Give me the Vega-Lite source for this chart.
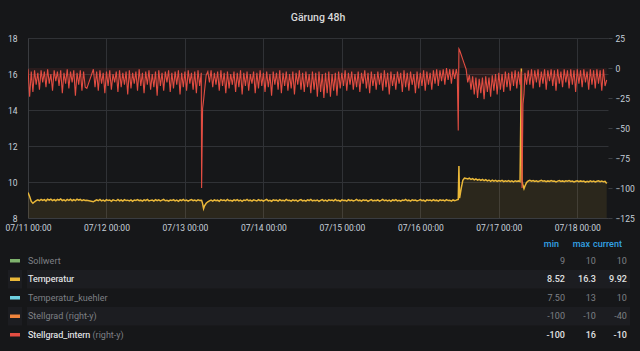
{
  "$schema": "https://vega.github.io/schema/vega-lite/v6.json",
  "background": "#161719",
  "padding": {"left": 3, "top": 12, "right": 9, "bottom": 7},
  "config": {
    "font": "Roboto",
    "view": {"stroke": null},
    "axis": {"labelFont": "Roboto", "labelFontSize": 8.5, "labelColor": "#c7d0d9", "gridColor": "#303236", "domainColor": "#3a3c40", "tickColor": "#3a3c40", "title": null, "labelOverlap": false},
    "title": {"font": "Roboto", "fontSize": 10.5, "fontWeight": 500, "color": "#d8d9da"},
    "text": {"font": "Roboto", "fontSize": 9}
  },
  "datasets": {
    "ts": [
      {"h":0,"temp":9.42,"stell":-1},{"h":0.5,"temp":9.20,"stell":-24},{"h":1,"temp":8.92,"stell":-3},{"h":1.5,"temp":8.82,"stell":-20},
      {"h":2,"temp":8.90,"stell":-2},{"h":2.5,"temp":8.97,"stell":-14},{"h":3,"temp":9.01,"stell":-4},{"h":3.5,"temp":8.96,"stell":-18},
      {"h":4,"temp":9.03,"stell":-2},{"h":4.5,"temp":8.98,"stell":-12},{"h":5,"temp":9.02,"stell":-3},{"h":5.5,"temp":8.95,"stell":-16},
      {"h":6,"temp":9.04,"stell":-1},{"h":6.5,"temp":8.99,"stell":-13},{"h":7,"temp":9.05,"stell":-5},{"h":7.5,"temp":8.97,"stell":-19},
      {"h":8,"temp":9.02,"stell":-2},{"h":8.5,"temp":8.96,"stell":-11},{"h":9,"temp":9.03,"stell":-3},{"h":9.5,"temp":8.99,"stell":-15},
      {"h":10,"temp":9.06,"stell":-2},{"h":10.5,"temp":8.97,"stell":-21},{"h":11,"temp":9.01,"stell":-4},{"h":11.5,"temp":8.95,"stell":-13},
      {"h":12,"temp":9.03,"stell":-1},{"h":12.5,"temp":8.98,"stell":-17},{"h":13,"temp":9.04,"stell":-3},{"h":13.5,"temp":8.96,"stell":-12},
      {"h":14,"temp":9.02,"stell":-2},{"h":14.5,"temp":8.97,"stell":-23},{"h":15,"temp":9.05,"stell":-4},{"h":15.5,"temp":8.99,"stell":-14},
      {"h":16,"temp":9.03,"stell":-2},{"h":16.5,"temp":8.96,"stell":-19},{"h":17,"temp":9.01,"stell":-3},{"h":17.5,"temp":8.97,"stell":-16},
      {"h":18,"temp":8.98,"stell":-17},
      {"h":20,"temp":8.90,"stell":-1},{"h":20.5,"temp":8.96,"stell":-16},{"h":21,"temp":9.01,"stell":-3},{"h":21.5,"temp":8.96,"stell":-19},
      {"h":22,"temp":9.03,"stell":-2},{"h":22.5,"temp":8.95,"stell":-13},{"h":23,"temp":8.99,"stell":-4},{"h":23.5,"temp":8.94,"stell":-21},
      {"h":24,"temp":9.02,"stell":-3},{"h":24.5,"temp":8.97,"stell":-15},{"h":25,"temp":9.00,"stell":-2},{"h":25.5,"temp":8.93,"stell":-18},
      {"h":26,"temp":9.01,"stell":-5},{"h":26.5,"temp":8.98,"stell":-12},{"h":27,"temp":8.96,"stell":-3},{"h":27.5,"temp":9.03,"stell":-20},
      {"h":28,"temp":8.95,"stell":-2},{"h":28.5,"temp":9.00,"stell":-16},{"h":29,"temp":8.94,"stell":-4},{"h":29.5,"temp":9.02,"stell":-14},
      {"h":30,"temp":8.97,"stell":-3},{"h":30.5,"temp":8.99,"stell":-22},{"h":31,"temp":8.95,"stell":-2},{"h":31.5,"temp":9.01,"stell":-17},
      {"h":32,"temp":8.93,"stell":-4},{"h":32.5,"temp":9.00,"stell":-13},{"h":33,"temp":8.98,"stell":-3},{"h":33.5,"temp":9.02,"stell":-19},
      {"h":34,"temp":8.96,"stell":-1},{"h":34.5,"temp":8.99,"stell":-15},{"h":35,"temp":8.94,"stell":-4},{"h":35.5,"temp":9.01,"stell":-21},
      {"h":36,"temp":8.97,"stell":-3},{"h":36.5,"temp":9.03,"stell":-14},{"h":37,"temp":8.95,"stell":-2},{"h":37.5,"temp":8.98,"stell":-18},
      {"h":38,"temp":9.00,"stell":-5},{"h":38.5,"temp":8.94,"stell":-16},{"h":39,"temp":9.02,"stell":-3},{"h":39.5,"temp":8.96,"stell":-23},
      {"h":40,"temp":9.01,"stell":-2},{"h":40.5,"temp":8.95,"stell":-15},{"h":41,"temp":8.99,"stell":-4},{"h":41.5,"temp":9.03,"stell":-19},
      {"h":42,"temp":8.96,"stell":-3},{"h":42.5,"temp":8.98,"stell":-12},{"h":43,"temp":8.94,"stell":-2},{"h":43.5,"temp":9.00,"stell":-20},
      {"h":44,"temp":8.97,"stell":-4},{"h":44.5,"temp":9.02,"stell":-17},{"h":45,"temp":8.95,"stell":-3},{"h":45.5,"temp":8.99,"stell":-14},
      {"h":46,"temp":8.93,"stell":-2},{"h":46.5,"temp":9.01,"stell":-22},{"h":47,"temp":8.97,"stell":-4},{"h":47.5,"temp":9.03,"stell":-16},
      {"h":48,"temp":8.96,"stell":-3},{"h":48.5,"temp":9.00,"stell":-19},{"h":49,"temp":8.94,"stell":-2},{"h":49.5,"temp":8.99,"stell":-13},
      {"h":50,"temp":9.02,"stell":-4},{"h":50.5,"temp":8.96,"stell":-18},{"h":51,"temp":9.00,"stell":-3},{"h":51.5,"temp":8.95,"stell":-21},
      {"h":52,"temp":9.01,"stell":-2},{"h":52.5,"temp":8.97,"stell":-15},{"h":53,"temp":8.99,"stell":-4},
      {"h":53.1,"temp":8.98,"stell":-100},{"h":53.4,"temp":8.80,"stell":-34},{"h":53.7,"temp":8.52,"stell":-27},{"h":54,"temp":8.68,"stell":-19},
      {"h":54.5,"temp":8.82,"stell":-6},
      {"h":55,"temp":8.90,"stell":-3},{"h":55.5,"temp":8.95,"stell":-12},{"h":56,"temp":8.99,"stell":-2},{"h":56.5,"temp":8.94,"stell":-16},
      {"h":57,"temp":9.01,"stell":-4},{"h":57.5,"temp":8.96,"stell":-14},{"h":58,"temp":8.99,"stell":-3},{"h":58.5,"temp":8.93,"stell":-19},
      {"h":59,"temp":9.02,"stell":-2},{"h":59.5,"temp":8.97,"stell":-15},{"h":60,"temp":9.00,"stell":-4},{"h":60.5,"temp":8.95,"stell":-21},
      {"h":61,"temp":9.03,"stell":-3},{"h":61.5,"temp":8.96,"stell":-17},{"h":62,"temp":8.98,"stell":-5},{"h":62.5,"temp":8.94,"stell":-14},
      {"h":63,"temp":9.01,"stell":-3},{"h":63.5,"temp":8.97,"stell":-20},{"h":64,"temp":9.02,"stell":-4},{"h":64.5,"temp":8.95,"stell":-16},
      {"h":65,"temp":8.99,"stell":-2},{"h":65.5,"temp":8.93,"stell":-22},{"h":66,"temp":9.00,"stell":-4},{"h":66.5,"temp":8.97,"stell":-15},
      {"h":67,"temp":9.03,"stell":-3},{"h":67.5,"temp":8.96,"stell":-19},{"h":68,"temp":8.99,"stell":-5},{"h":68.5,"temp":8.94,"stell":-13},
      {"h":69,"temp":9.01,"stell":-3},{"h":69.5,"temp":8.98,"stell":-21},{"h":70,"temp":8.95,"stell":-4},{"h":70.5,"temp":9.02,"stell":-17},
      {"h":71,"temp":8.96,"stell":-2},{"h":71.5,"temp":9.00,"stell":-15},{"h":72,"temp":8.94,"stell":-4},{"h":72.5,"temp":8.99,"stell":-20},
      {"h":73,"temp":9.03,"stell":-3},{"h":73.5,"temp":8.95,"stell":-16},{"h":74,"temp":8.98,"stell":-5},{"h":74.5,"temp":8.93,"stell":-23},
      {"h":75,"temp":9.01,"stell":-3},{"h":75.5,"temp":8.97,"stell":-14},{"h":76,"temp":9.00,"stell":-4},{"h":76.5,"temp":8.94,"stell":-18},
      {"h":77,"temp":9.02,"stell":-2},{"h":77.5,"temp":8.96,"stell":-21},{"h":78,"temp":8.99,"stell":-4},{"h":78.5,"temp":8.95,"stell":-15},
      {"h":79,"temp":9.03,"stell":-3},{"h":79.5,"temp":8.97,"stell":-19},{"h":80,"temp":8.98,"stell":-5},{"h":80.5,"temp":8.94,"stell":-17},
      {"h":81,"temp":9.01,"stell":-3},{"h":81.5,"temp":8.96,"stell":-22},{"h":82,"temp":9.00,"stell":-4},{"h":82.5,"temp":8.93,"stell":-14},
      {"h":83,"temp":8.99,"stell":-2},{"h":83.5,"temp":9.02,"stell":-18},{"h":84,"temp":8.95,"stell":-4},{"h":84.5,"temp":8.98,"stell":-20},
      {"h":85,"temp":8.94,"stell":-3},{"h":85.5,"temp":9.01,"stell":-16},{"h":86,"temp":8.97,"stell":-5},{"h":86.5,"temp":9.03,"stell":-21},
      {"h":87,"temp":8.95,"stell":-3},{"h":87.5,"temp":8.99,"stell":-18},{"h":88,"temp":8.96,"stell":-4},{"h":88.5,"temp":9.00,"stell":-24},
      {"h":89,"temp":8.93,"stell":-3},{"h":89.5,"temp":8.98,"stell":-20},{"h":90,"temp":9.02,"stell":-5},{"h":90.5,"temp":8.95,"stell":-25},
      {"h":91,"temp":8.99,"stell":-4},{"h":91.5,"temp":8.94,"stell":-21},{"h":92,"temp":9.01,"stell":-3},{"h":92.5,"temp":8.97,"stell":-24},
      {"h":93,"temp":9.00,"stell":-5},{"h":93.5,"temp":8.95,"stell":-19},{"h":94,"temp":9.03,"stell":-4},{"h":94.5,"temp":8.96,"stell":-23},
      {"h":95,"temp":8.98,"stell":-3},{"h":95.5,"temp":8.93,"stell":-17},{"h":96,"temp":9.01,"stell":-4},{"h":96.5,"temp":8.97,"stell":-15},
      {"h":97,"temp":8.99,"stell":-2},{"h":97.5,"temp":8.94,"stell":-19},{"h":98,"temp":9.02,"stell":-4},{"h":98.5,"temp":8.96,"stell":-14},
      {"h":99,"temp":9.00,"stell":-3},{"h":99.5,"temp":8.95,"stell":-18},{"h":100,"temp":8.98,"stell":-5},{"h":100.5,"temp":9.03,"stell":-16},
      {"h":101,"temp":8.96,"stell":-3},{"h":101.5,"temp":8.99,"stell":-20},{"h":102,"temp":8.94,"stell":-4},{"h":102.5,"temp":9.01,"stell":-13},
      {"h":103,"temp":8.97,"stell":-2},{"h":103.5,"temp":9.00,"stell":-17},{"h":104,"temp":8.93,"stell":-4},{"h":104.5,"temp":8.98,"stell":-21},
      {"h":105,"temp":9.02,"stell":-3},{"h":105.5,"temp":8.95,"stell":-15},{"h":106,"temp":8.99,"stell":-5},{"h":106.5,"temp":8.96,"stell":-18},
      {"h":107,"temp":9.01,"stell":-3},{"h":107.5,"temp":8.94,"stell":-14},{"h":108,"temp":8.98,"stell":-4},{"h":108.5,"temp":9.03,"stell":-19},
      {"h":109,"temp":8.96,"stell":-2},{"h":109.5,"temp":9.00,"stell":-16},{"h":110,"temp":8.95,"stell":-4},{"h":110.5,"temp":8.99,"stell":-22},
      {"h":111,"temp":8.93,"stell":-3},{"h":111.5,"temp":9.01,"stell":-15},{"h":112,"temp":8.97,"stell":-5},{"h":112.5,"temp":9.02,"stell":-18},
      {"h":113,"temp":8.95,"stell":-3},{"h":113.5,"temp":8.98,"stell":-13},{"h":114,"temp":8.94,"stell":-4},{"h":114.5,"temp":9.00,"stell":-20},
      {"h":115,"temp":8.97,"stell":-2},{"h":115.5,"temp":9.03,"stell":-16},{"h":116,"temp":8.96,"stell":-4},{"h":116.5,"temp":8.99,"stell":-19},
      {"h":117,"temp":8.94,"stell":-3},{"h":117.5,"temp":9.01,"stell":-14},{"h":118,"temp":8.97,"stell":-5},{"h":118.5,"temp":9.00,"stell":-21},
      {"h":119,"temp":8.95,"stell":-3},{"h":119.5,"temp":8.98,"stell":-17},{"h":120,"temp":9.02,"stell":-4},{"h":120.5,"temp":8.96,"stell":-15},
      {"h":121,"temp":8.99,"stell":-2},{"h":121.5,"temp":8.93,"stell":-19},{"h":122,"temp":9.01,"stell":-3},{"h":122.5,"temp":8.97,"stell":-14},
      {"h":123,"temp":9.00,"stell":-4},{"h":123.5,"temp":8.95,"stell":-18},{"h":124,"temp":9.02,"stell":-2},{"h":124.5,"temp":8.96,"stell":-13},
      {"h":125,"temp":8.99,"stell":-1},{"h":125.5,"temp":8.94,"stell":-15},{"h":126,"temp":9.01,"stell":-2},{"h":126.5,"temp":8.97,"stell":-11},
      {"h":127,"temp":9.00,"stell":-1},{"h":127.5,"temp":8.95,"stell":-14},{"h":128,"temp":9.02,"stell":0},{"h":128.5,"temp":8.97,"stell":-10},
      {"h":129,"temp":8.99,"stell":-1},{"h":129.5,"temp":8.94,"stell":-13},{"h":130,"temp":9.01,"stell":-1},{"h":130.5,"temp":8.96,"stell":-9},
      {"h":131,"temp":8.99,"stell":-1},
      {"h":131.3,"temp":9.02,"stell":-6},{"h":131.6,"temp":9.03,"stell":-52},{"h":131.8,"temp":10.89,"stell":16},{"h":132,"temp":9.10,"stell":15},
      {"h":132.5,"temp":9.65,"stell":11},{"h":133,"temp":10.10,"stell":7},{"h":133.5,"temp":10.22,"stell":3},{"h":134,"temp":10.20,"stell":-1},
      {"h":134.5,"temp":10.17,"stell":-12},{"h":135,"temp":10.21,"stell":-6},{"h":135.5,"temp":10.14,"stell":-18},{"h":136,"temp":10.19,"stell":-7},
      {"h":136.5,"temp":10.12,"stell":-22},{"h":137,"temp":10.17,"stell":-8},{"h":137.5,"temp":10.10,"stell":-25},{"h":138,"temp":10.15,"stell":-9},
      {"h":138.5,"temp":10.09,"stell":-21},{"h":139,"temp":10.14,"stell":-8},{"h":139.5,"temp":10.08,"stell":-26},{"h":140,"temp":10.13,"stell":-7},
      {"h":140.5,"temp":10.06,"stell":-20},{"h":141,"temp":10.11,"stell":-8},{"h":141.5,"temp":10.04,"stell":-24},{"h":142,"temp":10.10,"stell":-6},
      {"h":142.5,"temp":10.05,"stell":-19},{"h":143,"temp":10.09,"stell":-5},{"h":143.5,"temp":10.03,"stell":-22},{"h":144,"temp":10.08,"stell":-4},
      {"h":144.5,"temp":10.04,"stell":-18},{"h":145,"temp":10.09,"stell":-5},{"h":145.5,"temp":10.02,"stell":-20},{"h":146,"temp":10.07,"stell":-3},
      {"h":146.5,"temp":10.03,"stell":-16},{"h":147,"temp":10.08,"stell":-4},{"h":147.5,"temp":10.02,"stell":-19},{"h":148,"temp":10.06,"stell":-3},
      {"h":148.5,"temp":10.01,"stell":-15},{"h":149,"temp":10.07,"stell":-2},{"h":149.5,"temp":10.03,"stell":-17},{"h":150,"temp":10.06,"stell":-3},
      {"h":150.5,"temp":10.02,"stell":-14},
      {"h":150.9,"temp":16.3,"stell":-3},{"h":151.1,"temp":10.05,"stell":-100},{"h":151.4,"temp":9.80,"stell":-30},{"h":151.7,"temp":9.63,"stell":-22},
      {"h":152,"temp":9.78,"stell":-4},{"h":152.5,"temp":9.98,"stell":-14},
      {"h":153,"temp":10.06,"stell":-2},{"h":153.5,"temp":10.09,"stell":-14},{"h":154,"temp":10.04,"stell":-1},{"h":154.5,"temp":10.08,"stell":-17},
      {"h":155,"temp":10.03,"stell":-2},{"h":155.5,"temp":10.07,"stell":-12},{"h":156,"temp":10.02,"stell":-1},{"h":156.5,"temp":10.06,"stell":-16},
      {"h":157,"temp":10.09,"stell":-3},{"h":157.5,"temp":10.04,"stell":-13},{"h":158,"temp":10.07,"stell":-1},{"h":158.5,"temp":10.02,"stell":-18},
      {"h":159,"temp":10.06,"stell":-2},{"h":159.5,"temp":10.03,"stell":-11},{"h":160,"temp":10.08,"stell":-1},{"h":160.5,"temp":10.04,"stell":-15},
      {"h":161,"temp":10.06,"stell":-2},{"h":161.5,"temp":10.01,"stell":-19},{"h":162,"temp":10.05,"stell":-1},{"h":162.5,"temp":10.08,"stell":-13},
      {"h":163,"temp":10.03,"stell":-3},{"h":163.5,"temp":10.06,"stell":-16},{"h":164,"temp":10.02,"stell":-1},{"h":164.5,"temp":10.07,"stell":-12},
      {"h":165,"temp":10.04,"stell":-2},{"h":165.5,"temp":10.08,"stell":-17},{"h":166,"temp":10.03,"stell":-1},{"h":166.5,"temp":10.05,"stell":-14},
      {"h":167,"temp":10.00,"stell":-2},{"h":167.5,"temp":10.04,"stell":-20},{"h":168,"temp":10.07,"stell":-1},{"h":168.5,"temp":10.02,"stell":-13},
      {"h":169,"temp":10.06,"stell":-2},{"h":169.5,"temp":10.03,"stell":-16},{"h":170,"temp":10.05,"stell":-1},{"h":170.5,"temp":9.99,"stell":-12},
      {"h":171,"temp":10.04,"stell":-3},{"h":171.5,"temp":10.01,"stell":-18},{"h":172,"temp":10.06,"stell":-1},{"h":172.5,"temp":10.02,"stell":-14},
      {"h":173,"temp":10.05,"stell":-2},{"h":173.5,"temp":10.00,"stell":-17},{"h":174,"temp":10.04,"stell":-1},{"h":174.5,"temp":10.07,"stell":-13},
      {"h":175,"temp":10.02,"stell":-2},{"h":175.5,"temp":10.05,"stell":-19},{"h":176,"temp":10.01,"stell":-1},{"h":176.5,"temp":10.04,"stell":-15},
      {"h":177,"temp":9.92,"stell":-10}
    ],
    "leg": [
      {"row":1,"series":"Sollwert","label":"Sollwert","min":"9","max":"10","current":"10","shown":false},
      {"row":2,"series":"Temperatur","label":"Temperatur","min":"8.52","max":"16.3","current":"9.92","shown":true},
      {"row":3,"series":"Temperatur_kuehler","label":"Temperatur_kuehler","min":"7.50","max":"13","current":"10","shown":false},
      {"row":4,"series":"Stellgrad","label":"Stellgrad (right-y)","min":"-100","max":"-10","current":"-40","shown":false},
      {"row":5,"series":"Stellgrad_intern","label":"Stellgrad_intern (right-y)","min":"-100","max":"16","current":"-10","shown":true}
    ]
  },
  "vconcat": [
    {
      "hconcat": [
        {"width": 20, "height": 180, "data": {"values": []}, "mark": "rect"},
        {
          "width": 580,
          "height": 180,
          "title": {"text": "Gärung 48h", "anchor": "middle", "frame": "group", "offset": 11},
          "data": {"name": "ts"},
          "encoding": {
            "x": {"field": "h", "type": "quantitative",
              "scale": {"domain": [0, 177.4], "nice": false, "zero": false},
              "axis": {"values": [0, 24, 48, 72, 96, 120, 144, 168], "tickCount": 30, "labelExpr": "'07/' + (11 + datum.value / 24) + ' 00:00'", "grid": true, "ticks": false, "domain": true, "labelPadding": 5, "labelFlush": false, "labelBound": false, "labelOverlap": false}}
          },
          "layer": [
            {
              "layer": [
                {"mark": {"type": "area", "color": "#EAB839", "opacity": 0.1, "clip": true},
                 "encoding": {"y": {"field": "temp", "type": "quantitative",
                   "scale": {"domain": [8, 18], "nice": false, "zero": false},
                   "axis": {"orient": "left", "values": [8, 10, 12, 14, 16, 18], "tickCount": 30, "format": "d", "grid": true, "ticks": false, "domain": true, "labelPadding": 11, "labelOverlap": false}}}},
                {"mark": {"type": "line", "color": "#EAB839", "strokeWidth": 1.5, "clip": true},
                 "encoding": {"y": {"field": "temp", "type": "quantitative"}}}
              ]
            },
            {
              "layer": [
                {"mark": {"type": "area", "color": "#E24D42", "opacity": 0.1, "clip": true},
                 "encoding": {"y": {"field": "stell", "type": "quantitative",
                   "scale": {"domain": [-125, 25], "nice": false},
                   "axis": {"orient": "right", "values": [-125, -100, -75, -50, -25, 0, 25], "tickCount": 30, "format": "d", "grid": false, "ticks": true, "tickSize": 4, "domain": false, "labelPadding": 3, "labelOverlap": false}},
                   "y2": {"datum": 0}}},
                {"mark": {"type": "line", "color": "#E24D42", "strokeWidth": 1.1, "clip": true},
                 "encoding": {"y": {"field": "stell", "type": "quantitative"}}}
              ]
            }
          ],
          "resolve": {"scale": {"y": "independent"}}
        }
      ],
      "spacing": 0,
      "bounds": "flush"
    },
    {
      "data": {"name": "leg"},
      "hconcat": [
        {
          "width": 14,
          "height": 111,
          "encoding": {"y": {"field": "series", "type": "nominal", "scale": {"domain": ["hdr", "Sollwert", "Temperatur", "Temperatur_kuehler", "Stellgrad", "Stellgrad_intern"], "paddingInner": 0, "paddingOuter": 0}, "axis": null}},
          "layer": [
            {"transform": [{"filter": "datum.row % 2 == 0"}], "mark": {"type": "rect", "color": "#1c1d21"}},
            {"mark": {"type": "point", "shape": "stroke", "size": 100, "strokeWidth": 3.5, "filled": false, "opacity": 1},
             "encoding": {"color": {"field": "series", "type": "nominal", "scale": {"domain": ["Sollwert", "Temperatur", "Temperatur_kuehler", "Stellgrad", "Stellgrad_intern"], "range": ["#7EB26D", "#EAB839", "#6ED0E0", "#EF843C", "#E24D42"]}, "legend": null}}}
          ]
        },
        {
          "width": 507,
          "height": 111,
          "encoding": {"y": {"field": "series", "type": "nominal", "scale": {"domain": ["hdr", "Sollwert", "Temperatur", "Temperatur_kuehler", "Stellgrad", "Stellgrad_intern"], "paddingInner": 0, "paddingOuter": 0}, "axis": null}},
          "layer": [
            {"transform": [{"filter": "datum.row % 2 == 0"}], "mark": {"type": "rect", "color": "#1c1d21"}},
            {"mark": {"type": "text", "align": "left", "baseline": "middle", "dx": 1, "color": "#7e8085"},
             "encoding": {"x": {"datum": 0, "type": "quantitative", "scale": {"domain": [0, 1]}, "axis": null}, "text": {"field": "label"}}},
            {"transform": [{"filter": "datum.shown"}],
             "mark": {"type": "text", "align": "left", "baseline": "middle", "dx": 1, "color": "#e0e1e2"},
             "encoding": {"x": {"datum": 0, "type": "quantitative", "scale": {"domain": [0, 1]}, "axis": null}, "text": {"field": "series"}}}
          ]
        },
        {
          "width": 96,
          "height": 111,
          "encoding": {"y": {"field": "series", "type": "nominal", "scale": {"domain": ["hdr", "Sollwert", "Temperatur", "Temperatur_kuehler", "Stellgrad", "Stellgrad_intern"], "paddingInner": 0, "paddingOuter": 0}, "axis": null}},
          "layer": [
            {"transform": [{"filter": "datum.row % 2 == 0"}], "mark": {"type": "rect", "color": "#1c1d21"}},
            {"transform": [{"filter": "!datum.shown"}], "mark": {"type": "text", "align": "right", "baseline": "middle", "color": "#7e8085"},
             "encoding": {"x": {"datum": 1, "type": "quantitative", "scale": {"domain": [0, 3.1]}, "axis": null}, "text": {"field": "min"}}},
            {"transform": [{"filter": "!datum.shown"}], "mark": {"type": "text", "align": "right", "baseline": "middle", "color": "#7e8085"},
             "encoding": {"x": {"datum": 2, "type": "quantitative", "scale": {"domain": [0, 3.1]}, "axis": null}, "text": {"field": "max"}}},
            {"transform": [{"filter": "!datum.shown"}], "mark": {"type": "text", "align": "right", "baseline": "middle", "color": "#7e8085"},
             "encoding": {"x": {"datum": 3, "type": "quantitative", "scale": {"domain": [0, 3.1]}, "axis": null}, "text": {"field": "current"}}},
            {"transform": [{"filter": "datum.shown"}], "mark": {"type": "text", "align": "right", "baseline": "middle", "color": "#e0e1e2", "fontWeight": 500},
             "encoding": {"x": {"datum": 1, "type": "quantitative", "scale": {"domain": [0, 3.1]}, "axis": null}, "text": {"field": "min"}}},
            {"transform": [{"filter": "datum.shown"}], "mark": {"type": "text", "align": "right", "baseline": "middle", "color": "#e0e1e2", "fontWeight": 500},
             "encoding": {"x": {"datum": 2, "type": "quantitative", "scale": {"domain": [0, 3.1]}, "axis": null}, "text": {"field": "max"}}},
            {"transform": [{"filter": "datum.shown"}], "mark": {"type": "text", "align": "right", "baseline": "middle", "color": "#e0e1e2", "fontWeight": 500},
             "encoding": {"x": {"datum": 3, "type": "quantitative", "scale": {"domain": [0, 3.1]}, "axis": null}, "text": {"field": "current"}}},
            {"data": {"values": [{"stat": "min"}]},
             "mark": {"type": "text", "align": "right", "baseline": "middle", "dx": -6, "dy": 2, "color": "#33a2e5", "fontWeight": 500},
             "encoding": {"x": {"datum": 1, "type": "quantitative", "scale": {"domain": [0, 3.1]}, "axis": null}, "y": {"datum": "hdr", "type": "nominal"}, "text": {"field": "stat"}}},
            {"data": {"values": [{"stat": "max"}]},
             "mark": {"type": "text", "align": "right", "baseline": "middle", "dx": -6, "dy": 2, "color": "#33a2e5", "fontWeight": 500},
             "encoding": {"x": {"datum": 2, "type": "quantitative", "scale": {"domain": [0, 3.1]}, "axis": null}, "y": {"datum": "hdr", "type": "nominal"}, "text": {"field": "stat"}}},
            {"data": {"values": [{"stat": "current"}]},
             "mark": {"type": "text", "align": "right", "baseline": "middle", "dx": -5, "dy": 2, "color": "#33a2e5", "fontWeight": 500},
             "encoding": {"x": {"datum": 3, "type": "quantitative", "scale": {"domain": [0, 3.1]}, "axis": null}, "y": {"datum": "hdr", "type": "nominal"}, "text": {"field": "stat"}}}
          ]
        }
      ],
      "spacing": 0
    }
  ],
  "spacing": 1
}
